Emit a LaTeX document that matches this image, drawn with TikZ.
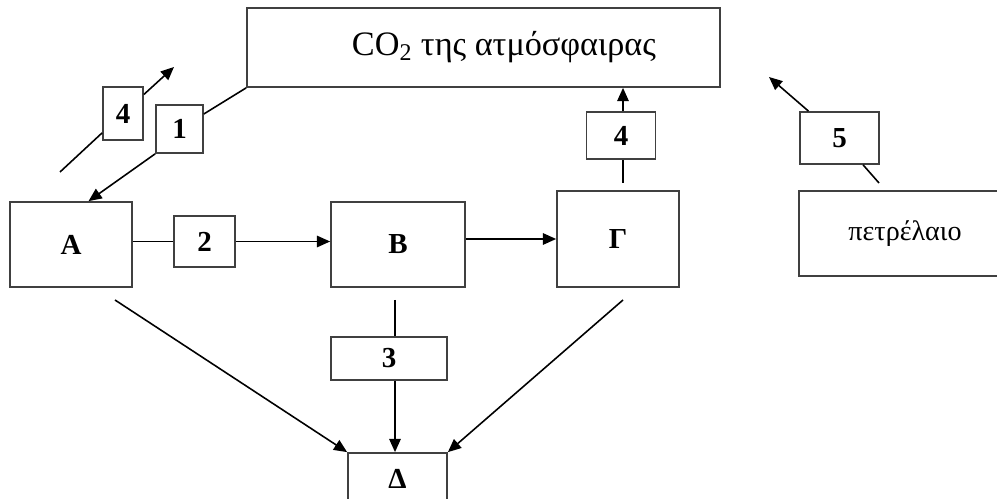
\documentclass[tikz,border=0pt]{standalone}
\usepackage{fontspec}
\setmainfont{Liberation Serif}
\usetikzlibrary{arrows.meta,positioning}

\begin{document}
\begin{tikzpicture}[x=0.02cm,y=-0.02cm,
    box/.style={draw=black!75,line width=1pt,inner sep=0pt,font=\bfseries\fontsize{16.5}{20}\selectfont},
    flow/.style={line width=0.9pt},
    arr/.style={flow,-{Triangle[length=7.5pt,width=6.5pt]}}]
    \useasboundingbox (0,0) rectangle (997,499);
    \clip (0,0) rectangle (997,499);

    % Boxes
    \node[box,minimum width=9.46cm,minimum height=1.58cm] (co2) at (483.5,47.5) {};
    \node[font=\fontsize{19.5}{23}\selectfont] (co2txt) at (504,47) {CO\textsubscript{2} της ατμόσφαιρας};
    \node[box,minimum width=0.8cm,minimum height=1.06cm] (bx4a) at (123,113.5) {4};
    \node[box,minimum width=0.94cm,minimum height=0.96cm] (bx1) at (179.5,129) {1};
    \node[box,minimum width=2.44cm,minimum height=1.7cm] (A) at (71,244.5) {Α};
    \node[box,minimum width=1.22cm,minimum height=1.02cm] (bx2) at (204.5,241.5) {2};
    \node[box,minimum width=2.68cm,minimum height=1.7cm] (B) at (398,244.5) {Β};
    \node[box,minimum width=2.44cm,minimum height=1.92cm] (G) at (618,239) {Γ};
    \node[box,minimum width=1.38cm,minimum height=0.94cm] (bx4b) at (621,135.5) {4};
    \node[box,minimum width=1.58cm,minimum height=1.04cm] (bx5) at (839.5,138) {5};
    \node[box,minimum width=4.24cm,minimum height=1.7cm,font=\fontsize{16}{19}\selectfont] (oil) at (905,233.5) {πετρέλαιο};
    \node[box,minimum width=2.32cm,minimum height=0.86cm] (bx3) at (389,358.5) {3};
    \node[box,minimum width=1.98cm,minimum height=1.04cm] (D) at (397.5,479) {Δ};

    % Free ends of the connectors
    \coordinate (s4) at (60,172);
    \coordinate (t4) at (174,67);
    \coordinate (g0) at (623,183);
    \coordinate (p5) at (879,183);
    \coordinate (t5) at (769,77);
    \coordinate (a0) at (115,300);
    \coordinate (b0) at (395,300);
    \coordinate (g1) at (623,300);

    % Upper connectors
    \draw[flow] (s4) -- (bx4a);
    \draw[arr] (bx4a) -- (t4);
    \draw[flow] (co2.south west) -- (bx1);
    \draw[arr] (bx1.south west) -- (A.68);
    \draw[flow] (g0) -- (g0 |- bx4b.south);
    \draw[arr] (bx4b.north -| g0) -- (g0 |- co2.south);
    \draw[flow] (p5) -- (bx5);
    \draw[arr] (bx5) -- (t5);

    % Middle row
    \draw[flow] (A.east |- bx2) -- (bx2);
    \draw[arr] (bx2) -- (bx2 -| B.west);
    \draw[arr] (B.east |- G) -- (G);

    % Lower connectors
    \draw[arr] (a0) -- (D.north west);
    \draw[flow] (b0) -- (b0 |- bx3.north);
    \draw[arr] (bx3.south -| b0) -- (b0 |- D.north);
    \draw[arr] (g1) -- (D.north east);
\end{tikzpicture}
\end{document}
